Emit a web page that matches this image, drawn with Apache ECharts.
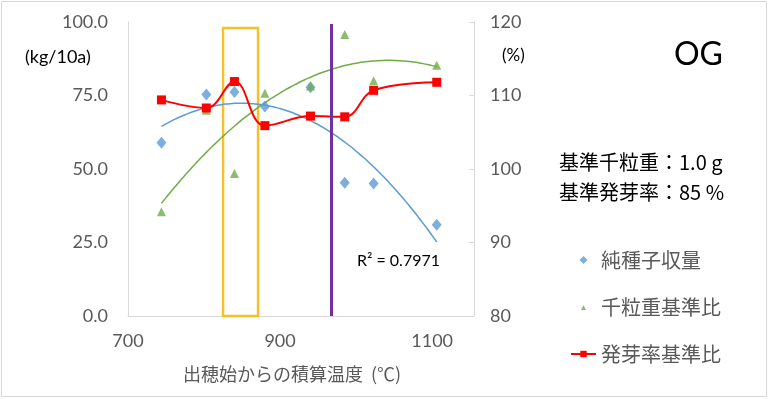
<!DOCTYPE html>
<html>
<head>
<meta charset="utf-8">
<script src="https://cdn.jsdelivr.net/npm/echarts@6/dist/echarts.min.js"></script>
<style>
  html, body { margin: 0; padding: 0; background: #fff; }
  #chart { width: 771px; height: 399px; }
</style>
</head>
<body>
<div id="chart"></div>
<script>
// 出穂始からの積算温度 (℃)
const temps = [744, 803, 840, 880, 940, 985, 1023, 1106]
// 純種子収量 (kg/10a), left axis
const yieldKg = [58.9, 75.3, 76.2, 71.3, 77.8, 45.3, 45.1, 31.0]
// 千粒重基準比 (%), right axis
const weightRatio = [94.2, 108.0, 99.4, 110.3, 111.3, 118.3, 112.0, 114.1]
// 発芽率基準比 (%), right axis
const germRatio = [109.4, 108.3, 111.9, 105.9, 107.2, 107.1, 110.7, 111.8]

const xTicks = [700, 900, 1100]
const leftTicks = [0, 25, 50, 75, 100]
const rightTicks = [80, 90, 100, 110, 120]

// shapes drawn over the chart (data coords)
const yellowBox = [[825, 98], [871, 0]]
const purpleLine = [[967, 0], [967, 99.3]]

const FONT_NUM = 'Lato, "Noto Sans CJK JP", sans-serif'
const FONT_JP = '"Noto Sans CJK JP", sans-serif'
const GRAY = '#595959'
const AXIS = '#D9D9D9'

// legend icons (path keeps its aspect inside the 25x8 legend box)
const ICON_DIAMOND = 'path://M5,0L10,5L5,10L0,5Z'
const ICON_TRIANGLE = 'path://M0,0L0.01,0.01M12,12L11.99,11.99M6,3.5L9.8,10.5L2.2,10.5Z'

// 2nd order polynomial trendline (least squares), like Excel
function polyTrend(xs, ys, steps) {
    const m = xs.reduce((a, b) => a + b, 0) / xs.length
    let s = [0, 0, 0, 0, 0], t = [0, 0, 0]
    xs.forEach((x0, i) => {
        const x = x0 - m
        for (let k = 0; k < 5; k++) s[k] += Math.pow(x, k)
        for (let k = 0; k < 3; k++) t[k] += ys[i] * Math.pow(x, k)
    })
    const A = [[s[0], s[1], s[2], t[0]], [s[1], s[2], s[3], t[1]], [s[2], s[3], s[4], t[2]]]
    for (let i = 0; i < 3; i++) {
        for (let j = i + 1; j < 3; j++) {
            const f = A[j][i] / A[i][i]
            for (let k = i; k < 4; k++) A[j][k] -= f * A[i][k]
        }
    }
    const c = [0, 0, 0]
    for (let i = 2; i >= 0; i--) {
        let v = A[i][3]
        for (let k = i + 1; k < 3; k++) v -= A[i][k] * c[k]
        c[i] = v / A[i][i]
    }
    const lo = Math.min(...xs), hi = Math.max(...xs)
    const out = []
    for (let i = 0; i <= steps; i++) {
        const x = lo + (hi - lo) * i / steps
        const d = x - m
        out.push([x, c[0] + c[1] * d + c[2] * d * d])
    }
    return out
}

const chart = echarts.init(document.getElementById('chart'))
chart.setOption({
    animation: false,
    backgroundColor: '#fff',
    grid: { left: 128, right: 297, top: 22, bottom: 83, containLabel: false, outerBoundsMode: 'none' },
    legend: {
        data: [
            { name: '純種子収量', icon: ICON_DIAMOND },
            { name: '千粒重基準比', icon: ICON_TRIANGLE },
            { name: '発芽率基準比' }
        ],
        orient: 'vertical',
        left: 570,
        top: 250,
        padding: 0,
        itemWidth: 25,
        itemHeight: 8,
        itemGap: 27,
        symbolKeepAspect: true,
        textStyle: { fontSize: 20, color: GRAY, fontFamily: FONT_JP }
    },
    xAxis: {
        type: 'value',
        min: 700,
        max: 1155,
        interval: 200,
        name: '出穂始からの積算温度  (℃)',
        nameLocation: 'middle',
        nameGap: 49,
        nameTextStyle: { fontSize: 18, color: GRAY, fontFamily: FONT_JP, padding: [0, 18, 0, 0] },
        axisLine: { lineStyle: { color: AXIS, width: 1 } },
        axisTick: { show: false },
        splitLine: { show: false },
        axisLabel: {
            margin: 16,
            fontSize: 18,
            color: GRAY,
            fontFamily: FONT_NUM,
            formatter: v => (xTicks.includes(v) ? String(v) : '')
        }
    },
    yAxis: [
        {
            type: 'value',
            min: 0,
            max: 100,
            interval: 25,
            axisLine: { show: true, lineStyle: { color: AXIS } },
            axisTick: { show: false },
            splitLine: { show: false },
            axisLabel: {
                margin: 20,
                fontSize: 18,
                color: GRAY,
                fontFamily: FONT_NUM,
                formatter: v => (leftTicks.includes(v) ? v.toFixed(1) : '')
            }
        },
        {
            type: 'value',
            position: 'right',
            min: 80,
            max: 120,
            interval: 10,
            axisLine: { show: true, lineStyle: { color: AXIS } },
            axisTick: { show: true, inside: true, length: 5, lineStyle: { color: AXIS } },
            splitLine: { show: false },
            axisLabel: {
                margin: 16,
                fontSize: 18,
                color: GRAY,
                fontFamily: FONT_NUM,
                formatter: v => (rightTicks.includes(v) ? String(v) : '')
            }
        }
    ],
    series: [
        {
            name: 'yieldTrend',
            type: 'line',
            data: polyTrend(temps, yieldKg, 60),
            showSymbol: false,
            smooth: true,
            lineStyle: { color: '#5B9BD5', width: 1.5 },
            z: 1
        },
        {
            name: 'weightTrend',
            type: 'line',
            yAxisIndex: 1,
            data: polyTrend(temps, weightRatio, 60),
            showSymbol: false,
            smooth: true,
            lineStyle: { color: '#70AD47', width: 1.5 },
            z: 1
        },
        {
            name: '純種子収量',
            type: 'scatter',
            data: temps.map((t, i) => [t, yieldKg[i]]),
            symbol: 'diamond',
            symbolSize: [10, 12],
            itemStyle: { color: '#5B9BD5' },
            z: 3
        },
        {
            name: '千粒重基準比',
            type: 'scatter',
            yAxisIndex: 1,
            data: temps.map((t, i) => [t, weightRatio[i]]),
            symbol: 'triangle',
            symbolSize: 9,
            itemStyle: { color: '#70AD47' },
            z: 3
        },
        {
            name: '発芽率基準比',
            type: 'line',
            yAxisIndex: 1,
            data: temps.map((t, i) => [t, germRatio[i]]),
            symbol: 'rect',
            symbolSize: 9,
            smooth: 0.4,
            itemStyle: { color: '#FF0000' },
            lineStyle: { color: '#FF0000', width: 2 },
            z: 4
        },
        {
            name: 'shapes',
            type: 'line',
            data: [],
            z: 10,
            markArea: {
                silent: true,
                itemStyle: { color: 'rgba(0,0,0,0)', borderColor: '#F5C02A', borderWidth: 2.5 },
                data: [[{ coord: yellowBox[0] }, { coord: yellowBox[1] }]]
            },
            markLine: {
                silent: true,
                symbol: 'none',
                label: { show: false },
                lineStyle: { color: '#7030A0', width: 3, type: 'solid' },
                data: [[{ coord: purpleLine[0] }, { coord: purpleLine[1] }]]
            }
        }
    ],
    graphic: [
        {
            type: 'rect',
            shape: { x: 1.5, y: 1.5, width: 765, height: 395 },
            style: { fill: 'none', stroke: '#D9D9D9', lineWidth: 1 },
            silent: true
        },
        { type: 'text', left: 25, top: 48, style: { text: '(kg/10a)', font: '18px ' + FONT_NUM, fill: '#000' } },
        { type: 'text', left: 502, top: 47, style: { text: '(%)', font: '17px ' + FONT_NUM, fill: '#000' } },
        { type: 'text', left: 674, top: 39, style: { text: 'OG', font: '32px ' + FONT_NUM, fill: '#000' } },
        { type: 'text', left: 559, top: 152, style: { text: '基準千粒重：1.0 g', font: '20px ' + FONT_JP, fill: '#000' } },
        { type: 'text', left: 559, top: 182, style: { text: '基準発芽率：85 %', font: '20px ' + FONT_JP, fill: '#000' } },
        { type: 'text', left: 357, top: 253, style: { text: 'R² = 0.7971', font: '16px ' + FONT_NUM, fill: '#000' } }
    ]
})
</script>
</body>
</html>
